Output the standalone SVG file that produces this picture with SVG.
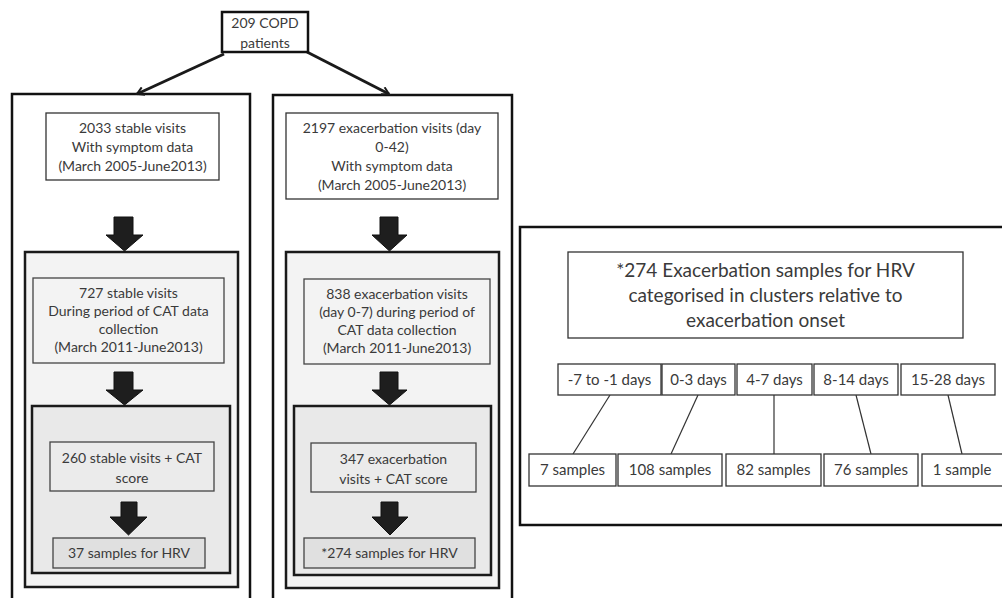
<svg xmlns="http://www.w3.org/2000/svg" width="1002" height="598" viewBox="0 0 1002 598">
<style>
text{font-family:Lato,"Open Sans","Liberation Sans",sans-serif;fill:#3a3a3a;text-anchor:middle;font-size:14px}
.big{font-size:19px}
.cat{font-size:15px}
.outer{fill:#fff;stroke:#111;stroke-width:2.5}
.mid{fill:#f3f3f3;stroke:#1a1a1a;stroke-width:2.5}
.inner{fill:#e9e9e9;stroke:#1a1a1a;stroke-width:2.5}
.tb{fill:#fff;stroke:#333;stroke-width:1.3}
.tbm{fill:#f3f3f3;stroke:#444;stroke-width:1.3}
.tbi{fill:#ebebeb;stroke:#444;stroke-width:1.3}
.tbd{fill:#e0e0e0;stroke:#444;stroke-width:1.3}
.blk{fill:#1e1e1e;stroke:#111;stroke-width:1}
.ln{stroke:#333;stroke-width:1.2;fill:none}
.ar{stroke:#1a1a1a;stroke-width:3;fill:none}
</style>
<defs>
<marker id="ah" markerWidth="10" markerHeight="10" refX="8" refY="5" orient="auto" markerUnits="userSpaceOnUse">
<path d="M1,1 L8,5 L1,9" fill="none" stroke="#1a1a1a" stroke-width="2"/>
</marker>
</defs>
<rect width="1002" height="598" fill="#fff"/>

<g id="col-stable">
<rect class="outer" x="12" y="94" width="238" height="520"/>
<rect class="mid" x="25" y="252" width="213" height="335"/>
<rect class="inner" x="32" y="406" width="198" height="167"/>
</g>
<g id="col-exac">
<rect class="outer" x="273" y="95" width="239" height="520"/>
<rect class="mid" x="286" y="252" width="213" height="336"/>
<rect class="inner" x="294" y="406" width="197" height="169"/>
</g>
<g id="panel-clusters">
<rect class="outer" x="520" y="227" width="500" height="298"/>
</g>

<g id="connectors">
<line class="ar" x1="224" y1="54" x2="137" y2="94" marker-end="url(#ah)"/>
<line class="ar" x1="307" y1="52" x2="389" y2="94" marker-end="url(#ah)"/>
<polygon class="blk" points="114,217 133,217 133,235 143,235 124.5,251 106,235 114,235"/>
<polygon class="blk" points="114,372 133,372 133,390 143,390 124.5,405 106,390 114,390"/>
<polygon class="blk" points="121,502 137,502 137,517 147,517 128.5,535 110,517 121,517"/>
<polygon class="blk" points="380,217 398,217 398,235 407,235 389.5,251 372,235 380,235"/>
<polygon class="blk" points="380,372 398,372 398,390 407,390 389.5,405 372,390 380,390"/>
<polygon class="blk" points="381,502 398,502 398,517 408,517 390,535 372,517 381,517"/>
<line class="ln" x1="610" y1="395" x2="573" y2="454"/>
<line class="ln" x1="698" y1="395" x2="671" y2="454"/>
<line class="ln" x1="774" y1="395" x2="774" y2="454"/>
<line class="ln" x1="856" y1="395" x2="871" y2="454"/>
<line class="ln" x1="948" y1="395" x2="962" y2="454"/>
</g>

<g id="n-copd">
<rect x="222" y="12" width="86" height="40" fill="#fff" stroke="#111" stroke-width="2.5"/>
<text x="265" y="28">209 COPD</text>
<text x="265" y="48">patients</text>
</g>
<g id="n-2033">
<rect class="tb" x="46" y="113" width="173" height="67"/>
<text x="132.5" y="133">2033 stable visits</text>
<text x="132.5" y="152">With symptom data</text>
<text x="132.5" y="171">(March 2005-June2013)</text>
</g>
<g id="n-2197">
<rect class="tb" x="286" y="113" width="212" height="86"/>
<text x="392" y="133">2197 exacerbation visits (day</text>
<text x="392" y="152">0-42)</text>
<text x="392" y="171">With symptom data</text>
<text x="392" y="190">(March 2005-June2013)</text>
</g>
<g id="n-727">
<rect class="tbm" x="33" y="278" width="191" height="85"/>
<text x="128.5" y="298">727 stable visits</text>
<text x="128.5" y="316">During period of CAT data</text>
<text x="128.5" y="334">collection</text>
<text x="128.5" y="352">(March 2011-June2013)</text>
</g>
<g id="n-838">
<rect class="tbm" x="304" y="279" width="186" height="85"/>
<text x="397" y="299">838 exacerbation visits</text>
<text x="397" y="317">(day 0-7) during period of</text>
<text x="397" y="335">CAT data collection</text>
<text x="397" y="353">(March 2011-June2013)</text>
</g>
<g id="n-260">
<rect class="tbi" x="50" y="442" width="164" height="49"/>
<text x="132" y="463">260 stable visits + CAT</text>
<text x="132" y="483">score</text>
</g>
<g id="n-347">
<rect class="tbi" x="311" y="443" width="165" height="49"/>
<text x="393.5" y="464">347 exacerbation</text>
<text x="393.5" y="484">visits + CAT score</text>
</g>
<g id="n-37">
<rect class="tbd" x="53" y="538" width="152" height="30"/>
<text x="129" y="558">37 samples for HRV</text>
</g>
<g id="n-274">
<rect class="tbd" x="304" y="538" width="171" height="30"/>
<text x="389.5" y="558">*274 samples for HRV</text>
</g>
<g id="n-title">
<rect class="tb" x="568" y="252" width="395" height="86"/>
<text class="big" x="765.5" y="277">*274 Exacerbation samples for HRV</text>
<text class="big" x="765.5" y="302">categorised in clusters relative to</text>
<text class="big" x="765.5" y="327">exacerbation onset</text>
</g>
<g id="n-c1"><rect class="tb" x="558" y="364" width="103" height="31"/><text class="cat" x="609.5" y="385">-7 to -1 days</text></g>
<g id="n-c2"><rect class="tb" x="662" y="364" width="73" height="31"/><text class="cat" x="698.5" y="385">0-3 days</text></g>
<g id="n-c3"><rect class="tb" x="737" y="364" width="75" height="31"/><text class="cat" x="774.5" y="385">4-7 days</text></g>
<g id="n-c4"><rect class="tb" x="814" y="364" width="84" height="31"/><text class="cat" x="856" y="385">8-14 days</text></g>
<g id="n-c5"><rect class="tb" x="901" y="364" width="94" height="31"/><text class="cat" x="948" y="385">15-28 days</text></g>
<g id="n-s1"><rect class="tb" x="529" y="454" width="87" height="32"/><text class="cat" x="572.5" y="475">7 samples</text></g>
<g id="n-s2"><rect class="tb" x="618" y="454" width="104" height="32"/><text class="cat" x="670" y="475">108 samples</text></g>
<g id="n-s3"><rect class="tb" x="726" y="454" width="95" height="32"/><text class="cat" x="773.5" y="475">82 samples</text></g>
<g id="n-s4"><rect class="tb" x="824" y="454" width="94" height="32"/><text class="cat" x="871" y="475">76 samples</text></g>
<g id="n-s5"><rect class="tb" x="922" y="454" width="90" height="32"/><text class="cat" x="962" y="475">1 sample</text></g>
</svg>
